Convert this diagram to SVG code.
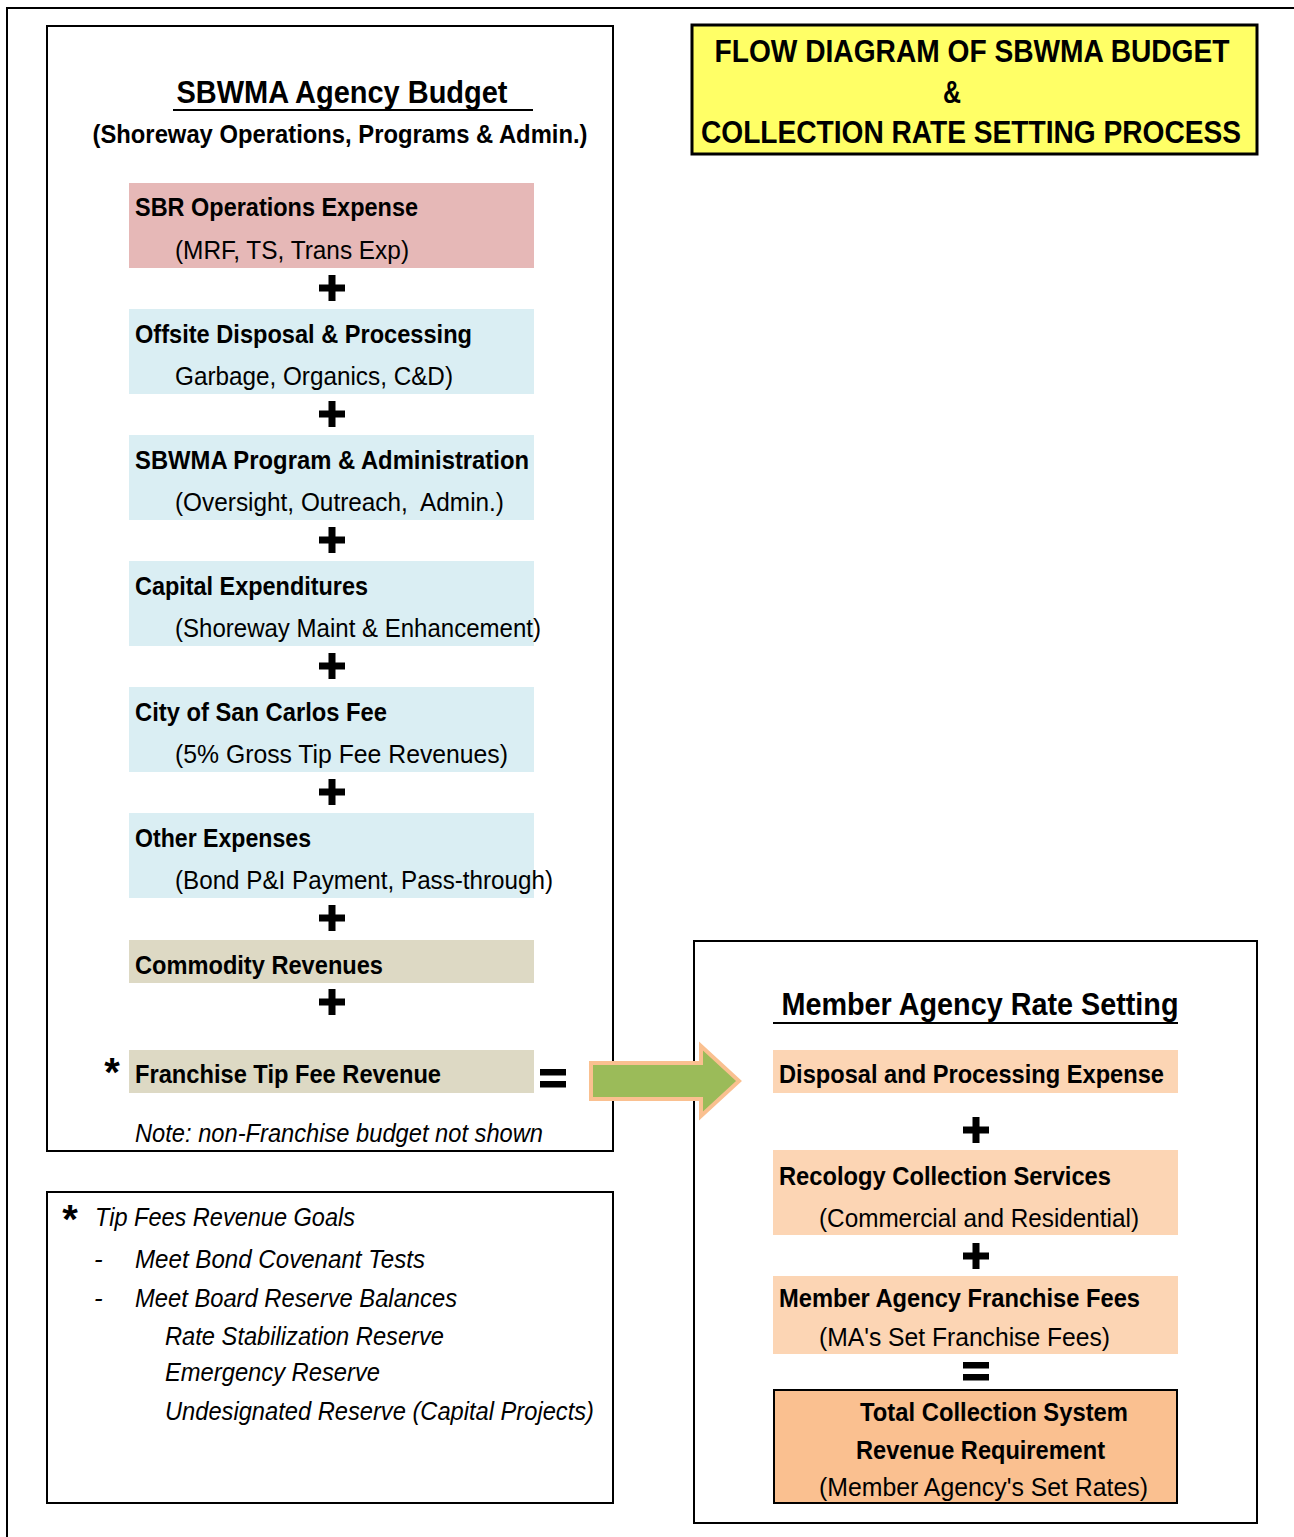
<svg xmlns="http://www.w3.org/2000/svg" xmlns:xlink="http://www.w3.org/1999/xlink" width="1294" height="1537" viewBox="0 0 1294 1537">
<style>
text{font-family:"Liberation Sans",Arial,sans-serif;fill:#000}
.h{font-size:31px;font-weight:bold}
.t{font-size:26px;font-weight:bold}
.s{font-size:26px}
.i{font-size:26px;font-style:italic}
.frame{fill:#fff;stroke:#000;stroke-width:2}
.red{fill:#E6B8B7}
.blue{fill:#DAEEF3}
.tan{fill:#DDD9C4}
.peach{fill:#FCD5B4}
</style>
<defs>
<g id="plus"><rect x="-13" y="-3.5" width="26" height="7"/><rect x="-3.5" y="-13" width="7" height="26"/></g>
<g id="eq"><rect x="-13" y="-10" width="26" height="6.5"/><rect x="-13" y="2" width="26" height="6.5"/></g>
</defs>
<rect width="1294" height="1537" fill="#fff"/>
<path d="M7,1537 V8 H1294" fill="none" stroke="#000" stroke-width="2"/>

<g id="title">
<rect x="692" y="25" width="565" height="129" fill="#FFFF66" stroke="#000" stroke-width="3"/>
<text class="h" x="972" y="62" text-anchor="middle" textLength="515" lengthAdjust="spacingAndGlyphs">FLOW DIAGRAM OF SBWMA BUDGET</text>
<text class="h" x="952" y="103" text-anchor="middle" textLength="18" lengthAdjust="spacingAndGlyphs">&amp;</text>
<text class="h" x="971" y="143" text-anchor="middle" textLength="540" lengthAdjust="spacingAndGlyphs">COLLECTION RATE SETTING PROCESS</text>
</g>

<g id="budget">
<rect class="frame" x="47" y="26" width="566" height="1125"/>
<text class="h" x="342" y="103" text-anchor="middle" textLength="331" lengthAdjust="spacingAndGlyphs">SBWMA Agency Budget</text>
<line x1="173" y1="110" x2="533" y2="110" stroke="#000" stroke-width="2"/>
<text class="t" x="340" y="143" text-anchor="middle" textLength="495" lengthAdjust="spacingAndGlyphs">(Shoreway Operations, Programs &amp; Admin.)</text>
</g>

<g id="sbr-ops">
<rect class="red" x="129" y="183" width="405" height="85"/>
<text class="t" x="135" y="216" textLength="283" lengthAdjust="spacingAndGlyphs">SBR Operations Expense</text>
<text class="s" x="175" y="259" textLength="234" lengthAdjust="spacingAndGlyphs">(MRF, TS, Trans Exp)</text>
</g>
<g id="offsite">
<rect class="blue" x="129" y="309" width="405" height="85"/>
<text class="t" x="135" y="343" textLength="337" lengthAdjust="spacingAndGlyphs">Offsite Disposal &amp; Processing</text>
<text class="s" x="175" y="385" textLength="278" lengthAdjust="spacingAndGlyphs">Garbage, Organics, C&amp;D)</text>
</g>
<g id="program">
<rect class="blue" x="129" y="435" width="405" height="85"/>
<text class="t" x="135" y="469" textLength="394" lengthAdjust="spacingAndGlyphs">SBWMA Program &amp; Administration</text>
<text class="s" x="175" y="511" textLength="329" lengthAdjust="spacingAndGlyphs" xml:space="preserve">(Oversight, Outreach,  Admin.)</text>
</g>
<g id="capital">
<rect class="blue" x="129" y="561" width="405" height="85"/>
<text class="t" x="135" y="595" textLength="233" lengthAdjust="spacingAndGlyphs">Capital Expenditures</text>
<text class="s" x="175" y="637" textLength="366" lengthAdjust="spacingAndGlyphs">(Shoreway Maint &amp; Enhancement)</text>
</g>
<g id="city-fee">
<rect class="blue" x="129" y="687" width="405" height="85"/>
<text class="t" x="135" y="721" textLength="252" lengthAdjust="spacingAndGlyphs">City of San Carlos Fee</text>
<text class="s" x="175" y="763" textLength="333" lengthAdjust="spacingAndGlyphs">(5% Gross Tip Fee Revenues)</text>
</g>
<g id="other">
<rect class="blue" x="129" y="813" width="405" height="85"/>
<text class="t" x="135" y="847" textLength="176" lengthAdjust="spacingAndGlyphs">Other Expenses</text>
<text class="s" x="175" y="889" textLength="378" lengthAdjust="spacingAndGlyphs">(Bond P&amp;I Payment, Pass-through)</text>
</g>
<g id="commodity">
<rect class="tan" x="129" y="940" width="405" height="43"/>
<text class="t" x="135" y="974" textLength="248" lengthAdjust="spacingAndGlyphs">Commodity Revenues</text>
</g>
<g id="franchise-tip">
<rect class="tan" x="129" y="1050" width="405" height="43"/>
<text class="t" x="135" y="1083" textLength="306" lengthAdjust="spacingAndGlyphs">Franchise Tip Fee Revenue</text>
<text x="112" y="1086" font-size="40" font-weight="bold" text-anchor="middle">*</text>
</g>
<g id="note">
<text class="i" x="135" y="1142" textLength="408" lengthAdjust="spacingAndGlyphs">Note: non-Franchise budget not shown</text>
</g>

<g id="goals">
<rect class="frame" x="47" y="1192" width="566" height="311"/>
<text x="70" y="1233" font-size="40" font-weight="bold" text-anchor="middle">*</text>
<text class="i" x="95" y="1226" textLength="260" lengthAdjust="spacingAndGlyphs">Tip Fees Revenue Goals</text>
<text class="i" x="94" y="1268">-</text>
<text class="i" x="135" y="1268" textLength="290" lengthAdjust="spacingAndGlyphs">Meet Bond Covenant Tests</text>
<text class="i" x="94" y="1307">-</text>
<text class="i" x="135" y="1307" textLength="322" lengthAdjust="spacingAndGlyphs">Meet Board Reserve Balances</text>
<text class="i" x="165" y="1345" textLength="279" lengthAdjust="spacingAndGlyphs">Rate Stabilization Reserve</text>
<text class="i" x="165" y="1381" textLength="215" lengthAdjust="spacingAndGlyphs">Emergency Reserve</text>
<text class="i" x="165" y="1420" textLength="429" lengthAdjust="spacingAndGlyphs">Undesignated Reserve (Capital Projects)</text>
</g>

<g id="rate-setting">
<rect class="frame" x="694" y="941" width="563" height="582"/>
<text class="h" x="980" y="1015" text-anchor="middle" textLength="397" lengthAdjust="spacingAndGlyphs">Member Agency Rate Setting</text>
<line x1="773" y1="1023" x2="1178" y2="1023" stroke="#000" stroke-width="2"/>
</g>
<g id="disposal">
<rect class="peach" x="773" y="1050" width="405" height="43"/>
<text class="t" x="779" y="1083" textLength="385" lengthAdjust="spacingAndGlyphs">Disposal and Processing Expense</text>
</g>
<g id="recology">
<rect class="peach" x="773" y="1150" width="405" height="85"/>
<text class="t" x="779" y="1185" textLength="332" lengthAdjust="spacingAndGlyphs">Recology Collection Services</text>
<text class="s" x="819" y="1227" textLength="320" lengthAdjust="spacingAndGlyphs">(Commercial and Residential)</text>
</g>
<g id="ma-fees">
<rect class="peach" x="773" y="1276" width="405" height="78"/>
<text class="t" x="779" y="1307" textLength="361" lengthAdjust="spacingAndGlyphs">Member Agency Franchise Fees</text>
<text class="s" x="819" y="1346" textLength="291" lengthAdjust="spacingAndGlyphs">(MA's Set Franchise Fees)</text>
</g>
<g id="total">
<rect x="774" y="1390" width="403" height="113" fill="#FAC090" stroke="#000" stroke-width="2"/>
<text class="t" x="860" y="1421" textLength="268" lengthAdjust="spacingAndGlyphs">Total Collection System</text>
<text class="t" x="856" y="1459" textLength="249" lengthAdjust="spacingAndGlyphs">Revenue Requirement</text>
<text class="s" x="819" y="1496" textLength="329" lengthAdjust="spacingAndGlyphs">(Member Agency's Set Rates)</text>
</g>

<g id="operators">
<use xlink:href="#plus" x="332" y="288"/>
<use xlink:href="#plus" x="332" y="414"/>
<use xlink:href="#plus" x="332" y="540"/>
<use xlink:href="#plus" x="332" y="666"/>
<use xlink:href="#plus" x="332" y="792"/>
<use xlink:href="#plus" x="332" y="918"/>
<use xlink:href="#plus" x="332" y="1002"/>
<use xlink:href="#eq" x="553" y="1079"/>
<use xlink:href="#plus" x="976" y="1130"/>
<use xlink:href="#plus" x="976" y="1256"/>
<use xlink:href="#eq" x="976" y="1372"/>
</g>

<g id="connectors">
<path d="M591,1063 H701 V1046 L739,1081 L701,1116 V1099 H591 Z" fill="#9BBB59" stroke="#FAC090" stroke-width="4" stroke-linejoin="miter"/>
</g>
</svg>
